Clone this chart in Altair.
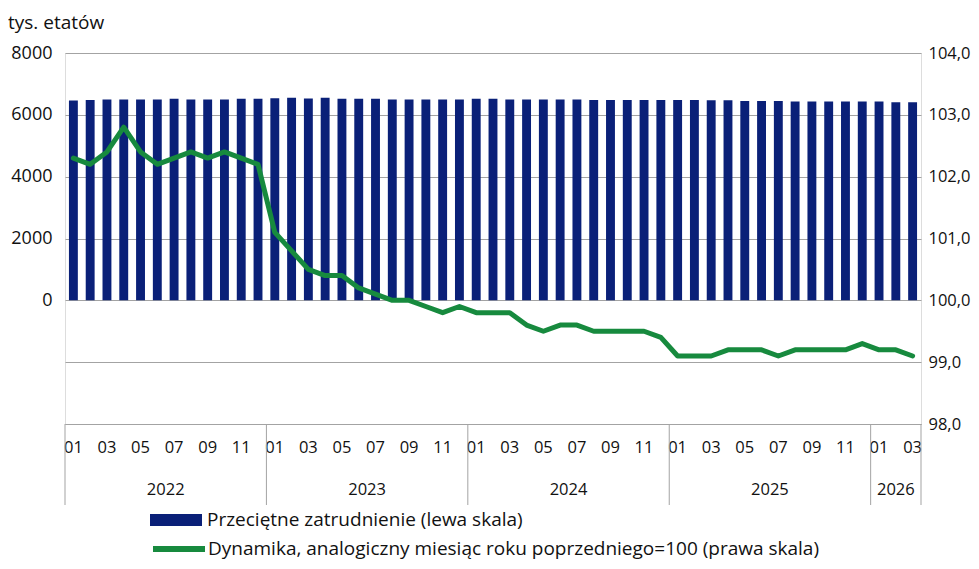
import altair as alt
import pandas as pd

FONT = "Open Sans"
NAVY = "#0a2078"
GREEN = "#178a3e"
GRID = "#a3a3a3"

years = [2022] * 12 + [2023] * 12 + [2024] * 12 + [2025] * 12 + [2026] * 3
month_nums = ["01", "02", "03", "04", "05", "06", "07", "08", "09", "10", "11", "12"] * 4 + ["01", "02", "03"]

employment = [
    6460, 6480, 6500, 6500, 6500, 6500, 6520, 6500, 6500, 6500, 6520, 6520,
    6540, 6550, 6530, 6550, 6520, 6520, 6520, 6500, 6500, 6500, 6500, 6500,
    6520, 6520, 6500, 6500, 6500, 6500, 6500, 6480, 6480, 6480, 6480, 6480,
    6480, 6480, 6475, 6475, 6450, 6450, 6450, 6430, 6430, 6430, 6430, 6430,
    6430, 6410, 6410,
]
dynamics = [
    102.3, 102.2, 102.4, 102.8, 102.4, 102.2, 102.3, 102.4, 102.3, 102.4, 102.3, 102.2,
    101.1, 100.8, 100.5, 100.4, 100.4, 100.2, 100.1, 100.0, 100.0, 99.9, 99.8, 99.9,
    99.8, 99.8, 99.8, 99.6, 99.5, 99.6, 99.6, 99.5, 99.5, 99.5, 99.5, 99.4,
    99.1, 99.1, 99.1, 99.2, 99.2, 99.2, 99.1, 99.2, 99.2, 99.2, 99.2, 99.3,
    99.2, 99.2, 99.1,
]

year_labels = ["2022", "2023", "2024", "2025", "2026"]
year_counts = [12, 12, 12, 12, 3]

left_ticks = [0, 2000, 4000, 6000, 8000]
right_ticks = [98, 99, 100, 101, 102, 103, 104]

LEG_BAR = "Przeciętne zatrudnienie (lewa skala)"
LEG_LINE = "Dynamika, analogiczny miesiąc roku poprzedniego=100 (prawa skala)"

df = pd.DataFrame({
    "month": [f"{y}-{m}" for y, m in zip(years, month_nums)],
    "emp": employment,
    "dyn": dynamics,
    "s1": LEG_BAR,
    "s2": LEG_LINE,
})

starts = []
acc = 0
for n in year_counts:
    starts.append(acc)
    acc += n
yd = pd.DataFrame({"year": year_labels, "mid": [s + n / 2 for s, n in zip(starts, year_counts)]})
bd = pd.DataFrame({"b": starts + [acc]})

W, H = 856, 371

xband = alt.Scale(paddingInner=0.47, paddingOuter=0.235)
xq = alt.Scale(domain=[0, acc], nice=False, zero=False)

bars = alt.Chart(df).mark_bar().encode(
    x=alt.X("month:O", scale=xband, sort=None,
            axis=alt.Axis(title=None, ticks=False, tickSize=0, labelAngle=0, labelOverlap=False,
                          labelExpr="toNumber(substring(datum.value, 5, 7)) % 2 == 1 ? substring(datum.value, 5, 7) : ''",
                          labelPadding=15, labelFont=FONT, labelFontSize=16.5, labelColor="#111",
                          domainColor=GRID, domainWidth=1, grid=False)),
    y=alt.Y("emp:Q", scale=alt.Scale(domain=[-4000, 8000], nice=False, zero=False),
            axis=alt.Axis(title=None, values=left_ticks, format="d", grid=False, ticks=False, domain=False,
                          labelPadding=13, labelFont=FONT, labelFontSize=18, labelColor="#111")),
    fill=alt.Fill("s1:N", scale=alt.Scale(domain=[LEG_BAR], range=[NAVY]),
                  legend=alt.Legend(title=None, orient="none", legendX=85, legendY=441,
                                    symbolType="M-1,-0.23H1V0.23H-1Z", symbolSize=2704,
                                    symbolStrokeWidth=0, labelFont=FONT, labelFontSize=19,
                                    labelColor="#111", labelOffset=5, labelLimit=0)),
)

line = alt.Chart(df).mark_line(strokeWidth=5, strokeJoin="round", strokeCap="round").encode(
    x=alt.X("month:O", scale=xband, sort=None, axis=None),
    y=alt.Y("dyn:Q", scale=alt.Scale(domain=[98, 104], nice=False, zero=False),
            axis=alt.Axis(title=None, orient="right", values=right_ticks, grid=True, gridColor=GRID,
                          ticks=False, domain=False, labelPadding=7, labelFont=FONT, labelFontSize=16.5,
                          labelColor="#111",
                          labelExpr="replace(format(datum.value, '.1f'), '.', ',')")),
    stroke=alt.Stroke("s2:N", scale=alt.Scale(domain=[LEG_LINE], range=[GREEN]),
                      legend=alt.Legend(title=None, orient="none", legendX=85, legendY=467,
                                        symbolType="stroke", symbolSize=2704, symbolStrokeWidth=6,
                                        labelFont=FONT, labelFontSize=19, labelColor="#111",
                                        labelOffset=0, labelLimit=0)),
)

seps = alt.Chart(bd).mark_rule(color=GRID, strokeWidth=1).encode(
    x=alt.X("b:Q", scale=xq, axis=None),
    y=alt.value(H),
    y2=alt.value(H + 81),
)

ytext = alt.Chart(yd).mark_text(font=FONT, fontSize=16.5, color="#111", baseline="middle").encode(
    x=alt.X("mid:Q", scale=xq, axis=None),
    y=alt.value(H + 66),
    text="year:N",
)

chart = alt.layer(bars, line, seps, ytext).resolve_scale(
    x="independent", y="independent", fill="independent", stroke="independent"
).properties(
    width=W, height=H,
    padding={"left": 57, "top": 45, "right": 50, "bottom": 137},
    autosize=alt.AutoSizeParams(type="none"),
    title=alt.Title("tys. etatów", anchor="start", frame="group", dx=-57, offset=11,
                    font=FONT, fontSize=19, fontWeight="normal", color="#111"),
).configure_view(stroke=None).configure(background="white")

chart.save("out.html", embed_options={"renderer": "svg", "actions": False})
